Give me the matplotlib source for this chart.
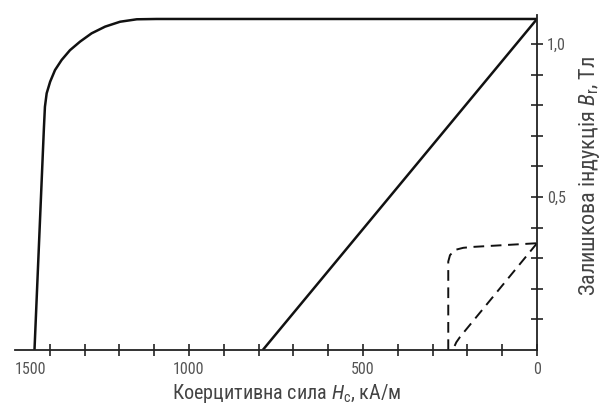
import matplotlib
matplotlib.use("Agg")
import matplotlib.pyplot as plt
from matplotlib import font_manager as fm

# pick a narrow sans font if one is installed
entries = fm.fontManager.ttflist
FONT = None
STRETCH = 'normal'
for pref in ["Liberation Sans Narrow", "Roboto Condensed", "Open Sans Condensed", "Noto Sans Condensed"]:
    if any(f.name == pref for f in entries):
        FONT = pref
        break
if FONT is None:
    cond = [f for f in entries if 'condensed' in str(f.stretch) and f.name in
            ("DejaVu Sans", "Noto Sans", "Roboto", "Open Sans", "Inter", "Lato")]
    if cond:
        FONT = cond[0].name
        STRETCH = 'condensed'
    else:
        FONT = "DejaVu Sans"
plt.rcParams['font.family'] = [FONT, 'DejaVu Sans']
plt.rcParams['font.stretch'] = STRETCH
plt.rcParams['mathtext.fontset'] = 'custom'
plt.rcParams['mathtext.rm'] = FONT
plt.rcParams['mathtext.it'] = FONT + ':italic'

# Curve 1 (solid): demagnetisation curve, H in kA/m, B in T
H_main = [1444, 1417, 1414, 1409, 1399, 1385, 1366, 1342, 1313, 1280, 1241, 1198, 1150, 1093, 0]
B_main = [0.0, 0.724, 0.795, 0.839, 0.877, 0.915, 0.948, 0.980, 1.008, 1.035, 1.057, 1.073, 1.081, 1.082, 1.082]

# Curve 2 (solid): straight line
H_line = [0, 788]
B_line = [1.082, 0.0]

# Curve 3 (dashed): demagnetisation curve of the second material
H_dash_knee = [255, 255, 250, 236, 212, 184, 0]
B_dash_knee = [0.0, 0.289, 0.310, 0.327, 0.334, 0.337, 0.349]

# Curve 4 (dashed): straight line with a bend at the bottom
H_dash_line = [0, 221, 232, 238, 241]
B_dash_line = [0.349, 0.043, 0.025, 0.010, 0.0]

x_ticks = [1400, 1300, 1200, 1100, 1000, 900, 800, 700, 600, 500, 400, 300, 200, 100, 0]
x_labels = {1500: "1500", 1000: "1000", 500: "500", 0: "0"}
y_ticks = [0.1, 0.2, 0.3, 0.4, 0.5, 0.6, 0.7, 0.8, 0.9, 1.0]
y_labels = {0.5: "0,5", 1.0: "1,0"}

fig = plt.figure(figsize=(6.03, 4.08), dpi=100)
ax = fig.add_axes([15/603, 58/408, (537-15)/603, (350-15)/408])
ax.set_xlim(1500, 0)
ax.set_ylim(0, 1.095)

ink = "#111111"
ax.plot(H_main, B_main, color=ink, lw=1.8, solid_capstyle='butt', solid_joinstyle='round')
ax.plot(H_line, B_line, color=ink, lw=1.8, solid_capstyle='butt')
ax.plot(H_dash_knee, B_dash_knee, color=ink, lw=1.4, dashes=(5.5, 3.4))
ax.plot(H_dash_line, B_dash_line, color=ink, lw=1.4, dashes=(5.5, 3.4))

for s in ['top', 'left']:
    ax.spines[s].set_visible(False)
for s in ['bottom', 'right']:
    ax.spines[s].set_color('#222222')
    ax.spines[s].set_linewidth(1.3)

ax.yaxis.tick_right()
ax.yaxis.set_label_position('right')

ax.set_xticks(x_ticks + [1500])
ax.set_xticklabels([x_labels.get(t, "") for t in x_ticks + [1500]])
ax.set_yticks(y_ticks)
ax.set_yticklabels([y_labels.get(t, "") for t in y_ticks])

ax.tick_params(axis='x', direction='inout', length=8, width=1.2, color='#222222',
               labelsize=11.5, labelcolor='#555555', pad=5)
ax.tick_params(axis='y', direction='inout', length=8, width=1.2, color='#222222',
               labelsize=11.5, labelcolor='#555555', pad=3)
for t in ax.xaxis.get_major_ticks():
    if t.get_loc() == 1500:
        t.tick1line.set_visible(False)
        t.label1.set_horizontalalignment('left')

ax.set_xlabel(r"Коерцитивна сила $H_{\mathregular{c}}$, кА/м", fontsize=14.5, color='#444444')
ax.xaxis.set_label_coords(0.521, -0.097)
ax.xaxis.label.set_verticalalignment('top')
ax.set_ylabel(r"Залишкова індукція $B_{\mathregular{r}}$, Тл", fontsize=16, color='#444444')
ax.yaxis.set_label_coords(1.076, 0.52)

fig.savefig("out.png", dpi=100, facecolor='white')
